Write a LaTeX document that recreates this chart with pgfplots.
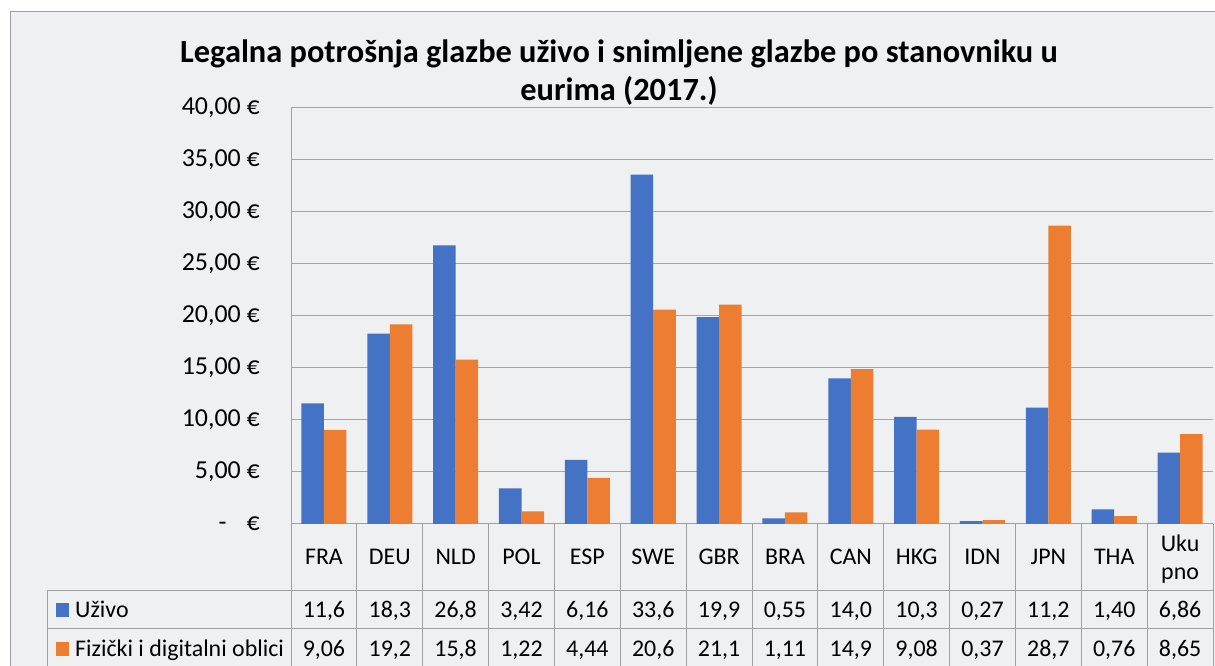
\documentclass[border=0pt]{standalone}
\usepackage{pgfplots}
\pgfplotsset{compat=1.18}
\usepackage{pgfplotstable}
\usepackage{fontspec}
\setmainfont{Carlito}

\definecolor{bgc}{RGB}{239,240,242}
\definecolor{linec}{RGB}{160,160,160}
\definecolor{gridc}{RGB}{165,165,165}
\definecolor{blu}{RGB}{68,114,196}
\definecolor{ora}{RGB}{237,125,49}

% per capita spend, EUR (2017)
\pgfplotstableread{
x  live  rec
1  11.6  9.06
2  18.3  19.2
3  26.8  15.8
4  3.42  1.22
5  6.16  4.44
6  33.6  20.6
7  19.9  21.1
8  0.55  1.11
9  14.0  14.9
10 10.3  9.08
11 0.27  0.37
12 11.2  28.7
13 1.40  0.76
14 6.86  8.65
}\data

\newcommand\tfont{\fontsize{24}{28}\selectfont}

\begin{document}
\begin{tikzpicture}[x=1bp,y=1bp]
\useasboundingbox (0,0) rectangle (1215,666);
\clip (0,0) rectangle (1215,666);
\fill[white] (0,0) rectangle (1215,666);
\fill[bgc] (10,0) rectangle (1215,654);
\draw[linec, line width=1bp] (10,0) -- (10,654) -- (1215,654);

% title
\node[anchor=base, font=\bfseries\fontsize{32.5}{38}\selectfont] at (619,603)
  {Legalna potrošnja glazbe uživo i snimljene glazbe po stanovniku u};
\node[anchor=base, font=\bfseries\fontsize{32.5}{38}\selectfont] at (619,565)
  {eurima (2017.)};

\begin{axis}[
    at={(291bp,142bp)}, anchor=south west,
    scale only axis, width=922bp, height=416bp,
    xmin=0.5, xmax=14.5, ymin=0, ymax=40,
    ybar, bar width=0.342,
    axis lines*=left,
    axis line style={linec, line width=1bp},
    xtick=\empty,
    ytick={0,5,...,40},
    yticklabels={{-\hspace{20bp}€},{5,00 €},{10,00 €},{15,00 €},{20,00 €},{25,00 €},{30,00 €},{35,00 €},{40,00 €}},
    ytick style={draw=none},
    yticklabel style={font=\fontsize{26}{30}\selectfont, inner sep=0pt, xshift=-31bp},
    ymajorgrids, grid style={gridc, line width=1bp},
]
\addplot[fill=blu, draw=none, bar shift=-0.171] table[x=x, y=live] {\data};
\addplot[fill=ora, draw=none, bar shift=0.171] table[x=x, y=rec] {\data};
\end{axis}

% data table
\draw[linec, line width=1bp] (47,75) -- (1213,75);
\draw[linec, line width=1bp] (47,37) -- (1213,37);
\draw[linec, line width=1bp] (47,75) -- (47,0);
\foreach \k in {0,...,14} {
  \draw[linec, line width=1bp] ({291+\k*65.857},142) -- ({291+\k*65.857},0);
}
\foreach \c [count=\i from 0] in {FRA,DEU,NLD,POL,ESP,SWE,GBR,BRA,CAN,HKG,IDN,JPN,THA} {
  \node[anchor=base, font=\tfont, inner sep=0pt] at ({291+(\i+0.5)*65.857},101) {\c};
}
\node[anchor=base, font=\tfont, inner sep=0pt] at ({291+13.5*65.857},114) {Uku};
\node[anchor=base, font=\tfont, inner sep=0pt] at ({291+13.5*65.857},86) {pno};

\foreach \v [count=\i from 0] in {{11,6},{18,3},{26,8},{3,42},{6,16},{33,6},{19,9},{0,55},{14,0},{10,3},{0,27},{11,2},{1,40},{6,86}} {
  \node[anchor=base, font=\tfont, inner sep=0pt] at ({291+(\i+0.5)*65.857},48) {\v};
}
\foreach \v [count=\i from 0] in {{9,06},{19,2},{15,8},{1,22},{4,44},{20,6},{21,1},{1,11},{14,9},{9,08},{0,37},{28,7},{0,76},{8,65}} {
  \node[anchor=base, font=\tfont, inner sep=0pt] at ({291+(\i+0.5)*65.857},9) {\v};
}

% legend keys inside the table
\fill[blu] (56,49) rectangle (69,63);
\node[anchor=base west, font=\tfont, inner sep=0pt] at (75,48) {Uživo};
\fill[ora] (56,10) rectangle (69,24);
\node[anchor=base west, font=\tfont, inner sep=0pt] at (75,9) {Fizički i digitalni oblici};
\end{tikzpicture}
\end{document}
